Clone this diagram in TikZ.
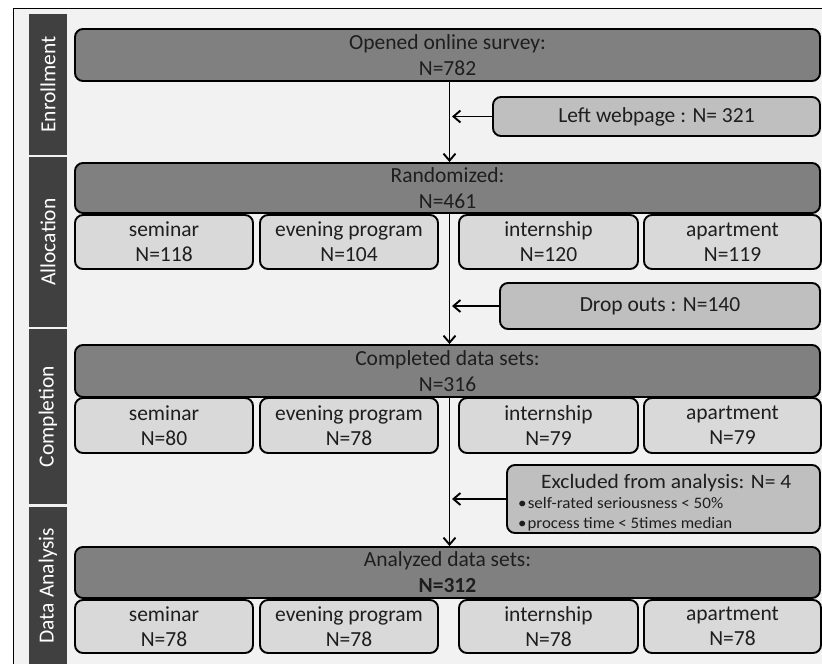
\documentclass[tikz,border=0pt]{standalone}
\usepackage{fontspec}
\usepackage{graphicx}
\setmainfont{Carlito}
\usetikzlibrary{arrows.meta,calc}
\definecolor{bg}{HTML}{F2F2F2}
\definecolor{barc}{HTML}{404040}
\definecolor{mainf}{HTML}{808080}
\definecolor{subf}{HTML}{D9D9D9}
\definecolor{sidef}{HTML}{BFBFBF}
\definecolor{txt}{HTML}{1E1E1E}
\begin{document}
\begin{tikzpicture}[x=1pt,y=-1pt,
  boxbase/.style={draw=black, line width=1.9pt, rounded corners=8pt, inner sep=0pt, align=center, text=txt,
                  font=\fontsize{21.5}{26}\selectfont},
  mainbox/.style={boxbase, fill=mainf, minimum width=745pt},
  subbox/.style={boxbase, fill=subf, font=\fontsize{21.5}{25}\selectfont},
  sidebox/.style={boxbase, fill=sidef},
  phase/.style={fill=barc, inner sep=0pt, minimum width=38pt},
  phasetxt/.style={rotate=90, text=white, font=\fontsize{21.5}{26}\selectfont},
  flow/.style={line width=1.9pt, -{Straight Barb[length=7pt,width=12pt,line width=1.9pt]}},
  exl/.style={anchor=base west, inner sep=0pt, text=txt}]
\useasboundingbox (0,0) rectangle (822,664);
\clip (0,0) rectangle (822,664);
\fill[white] (0,0) rectangle (822,664);
\draw[fill=bg, line width=1pt] (13,8) rectangle (840,690);

% phase bars
\node[phase, minimum height=141pt] (ph1) at (48,84.5) {};
\node[phasetxt] (ph1t) at (ph1) {Enrollment};
\node[phase, minimum height=170pt] (ph2) at (48,242) {};
\node[phasetxt] (ph2t) at (ph2) {Allocation};
\node[phase, minimum height=175pt] (ph3) at (48,416.5) {};
\node[phasetxt] (ph3t) at (ph3) {Completion};
\node[phase, minimum height=163pt] (ph4) at (48,588.5) {};
\node[phasetxt] (ph4t) at (48,585.5) {Data Analysis};

% main boxes
\node[mainbox, minimum height=52pt] (open) at (447.5,55) {Opened online survey:\\N=782};
\node[mainbox, minimum height=50pt] (rand) at (447.5,188) {Randomized:\\N=461};
\node[mainbox, minimum height=52pt] (comp) at (447.5,371) {Completed data sets:\\N=316};
\node[mainbox, minimum height=51pt] (anal) at (447.5,572.5) {Analyzed data sets:\\\textbf{N=312}};

% sub boxes row 1
\node[subbox, minimum width=178pt, minimum height=54pt] (s1) at (164,242) {seminar\\N=118};
\node[subbox, minimum width=178pt, minimum height=54pt] (e1) at (349,242) {evening program\\N=104};
\node[subbox, minimum width=179pt, minimum height=54pt] (i1) at (548.5,242) {internship\\N=120};
\node[subbox, minimum width=177pt, minimum height=54pt] (a1) at (732.5,242) {apartment\\N=119};
% row 2
\node[subbox, minimum width=178pt, minimum height=55pt] (s2) at (164,425.5) {seminar\\N=80};
\node[subbox, minimum width=178pt, minimum height=55pt] (e2) at (349,425.5) {evening program\\N=78};
\node[subbox, minimum width=179pt, minimum height=55pt] (i2) at (548.5,425.5) {internship\\N=79};
\node[subbox, minimum width=177pt, minimum height=55pt] (a2) at (732.5,425.5) {apartment\\N=79};
% row 3
\node[subbox, minimum width=178pt, minimum height=53pt] (s3) at (164,626.5) {seminar\\N=78};
\node[subbox, minimum width=178pt, minimum height=53pt] (e3) at (349,626.5) {evening program\\N=78};
\node[subbox, minimum width=179pt, minimum height=53pt] (i3) at (548.5,626.5) {internship\\N=78};
\node[subbox, minimum width=177pt, minimum height=53pt] (a3) at (732.5,626.5) {apartment\\N=78};

% side boxes
\node[sidebox, minimum width=327pt, minimum height=39pt] (left) at (656.5,116.5) {Left webpage : N= 321};
\node[sidebox, minimum width=320pt, minimum height=46pt] (drop) at (660,306) {Drop outs : N=140};
\node[sidebox, minimum width=313pt, minimum height=68pt] (excl) at (663.5,499) {};
\node[exl] (exclt) at (541,488) {\resizebox{250pt}{\height}{\fontsize{20.5}{22}\selectfont Excluded from analysis: N= 4}};
\node[exl] (b1) at (518,508.5) {\resizebox{205pt}{\height}{\fontsize{16}{18}\selectfont \textbullet\hspace{1pt}self-rated seriousness < 50\%}};
\node[exl] (b2) at (518,528) {\resizebox{214pt}{\height}{\fontsize{16}{18}\selectfont \textbullet\hspace{1pt}process time < 5times median}};

% flow
\coordinate (ax) at (449.5,0);
\coordinate (tip) at (452,0);
\draw[flow] (open.south -| ax) -- (rand.north -| ax);
\draw[flow] (rand.south -| ax) -- (comp.north -| ax);
\draw[flow] (comp.south -| ax) -- (anal.north -| ax);
\draw[flow] (left.west) -- (left.west -| tip);
\draw[flow] (drop.west) -- (drop.west -| tip);
\draw[flow] (excl.west) -- (excl.west -| tip);
\end{tikzpicture}
\end{document}
